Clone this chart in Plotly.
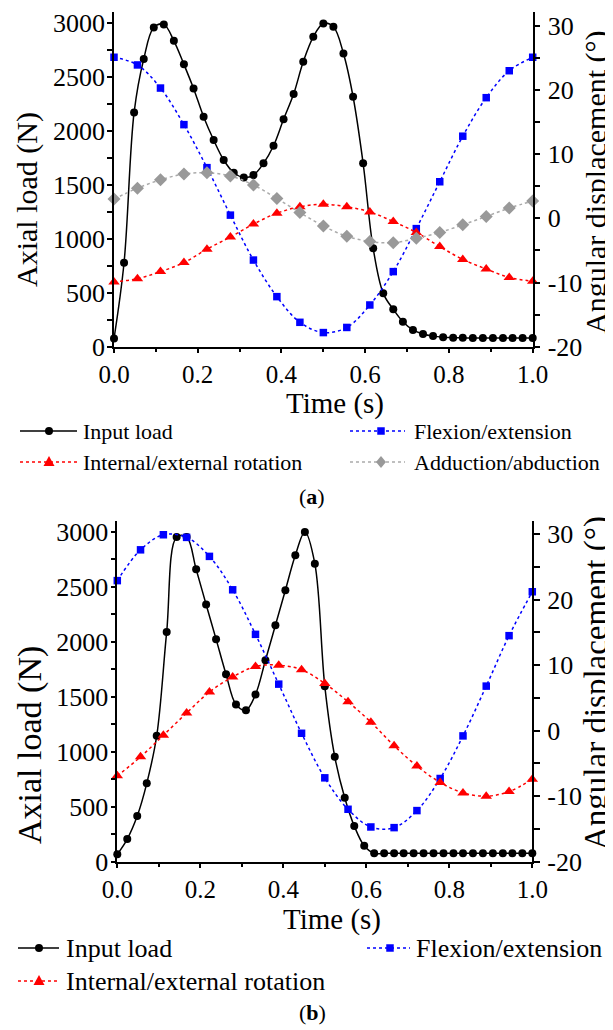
import plotly.graph_objects as go

# ---------------- data ----------------
t_load = [0.000, 0.024, 0.048, 0.071, 0.095, 0.119, 0.143, 0.167, 0.190, 0.214,
          0.238, 0.262, 0.286, 0.310, 0.333, 0.357, 0.381, 0.405, 0.429, 0.452,
          0.476, 0.500, 0.524, 0.548, 0.571, 0.595, 0.619, 0.643, 0.667, 0.690,
          0.714, 0.738, 0.762, 0.786, 0.810, 0.833, 0.857, 0.881, 0.905, 0.929,
          0.952, 0.976, 1.000]
t_ang = [0.000, 0.056, 0.111, 0.167, 0.222, 0.278, 0.333, 0.389, 0.444, 0.500,
         0.556, 0.611, 0.667, 0.722, 0.778, 0.833, 0.889, 0.944, 1.000]

# panel (a)
load_a = [75, 778, 2170, 2664, 2957, 2985, 2833, 2615, 2392, 2130,
          1914, 1729, 1611, 1568, 1590, 1698, 1861, 2106, 2340, 2639,
          2870, 2994, 2963, 2716, 2315, 1698, 911, 494, 346, 231,
          155, 118, 98, 88, 84, 82, 80, 80, 80, 80,
          80, 80, 80]
flex_a = [25.1, 23.9, 20.3, 14.6, 7.9, 0.5, -6.5, -12.2, -16.2, -17.8,
          -17.0, -13.5, -8.3, -1.6, 5.7, 12.8, 18.8, 23.0, 25.1]
rot_a = [-9.9, -9.4, -8.3, -6.9, -4.8, -2.9, -0.9, 0.8, 1.8, 2.2,
         1.8, 1.0, -0.5, -2.2, -4.4, -6.4, -7.9, -9.2, -9.8]
add_a = [3.0, 4.7, 6.0, 6.9, 7.1, 6.6, 5.2, 3.1, 0.9, -1.2,
         -2.8, -3.6, -3.8, -3.1, -2.2, -1.0, 0.3, 1.6, 2.7]

# panel (b)
load_b = [67, 206, 415, 713, 1146, 2091, 2955, 2955, 2661, 2340,
          2025, 1706, 1431, 1379, 1521, 1833, 2151, 2470, 2788, 3000,
          2712, 1597, 955, 582, 325, 145, 76, 76, 76, 76,
          76, 76, 76, 76, 76, 76, 76, 76, 76, 76,
          76, 76, 76]
flex_b = [22.9, 27.6, 29.9, 29.5, 26.6, 21.5, 14.7, 7.1, -0.4, -7.2,
          -12.0, -14.7, -14.8, -12.2, -7.3, -0.8, 6.8, 14.5, 21.2]
rot_b = [-6.9, -4.0, -0.7, 2.7, 5.9, 8.2, 9.8, 10.0, 9.3, 7.2,
         4.4, 1.3, -2.3, -5.4, -7.9, -9.5, -10.0, -9.3, -7.4]

x_ticks = [0.0, 0.2, 0.4, 0.6, 0.8, 1.0]
x_ticktext = ["0.0", "0.2", "0.4", "0.6", "0.8", "1.0"]
load_ticks = [0, 500, 1000, 1500, 2000, 2500, 3000]
load_ticktext = ["0", "500", "1000", "1500", "2000", "2500", "3000"]
ang_ticks = [-20, -10, 0, 10, 20, 30]
ang_ticktext = ["-20", "-10", "0", "10", "20", "30"]

names = ["Input load", "Flexion/extension", "Internal/external rotation", "Adduction/abduction"]

# ---------------- layout helpers ----------------
# the page body has an 8 px margin, so the figure is made 8 px smaller and
# every position below is given in window pixels and shifted by that offset
OFF = 8
W, H = 613 - OFF, 1030 - OFF
FONT = "'Liberation Serif', 'Times New Roman', Times, serif"
BLACK, BLUE, RED, GRAY, LGRAY = "#000000", "#0000FF", "#FF0000", "#999999", "#AAAAAA"


def px(x):
    return (x - OFF) / W


def py(y):
    return 1 - (y - OFF) / H


fig = go.Figure()


def add_series(x, y, xa, ya, color, lcolor, symbol, size, dash, name):
    fig.add_trace(go.Scatter(
        x=x, y=y, xaxis=xa, yaxis=ya, name=name, mode="lines+markers",
        line=dict(color=lcolor, width=1.5, dash=dash, shape="spline", smoothing=1.0),
        marker=dict(symbol=symbol, size=size, color=color, line=dict(width=0)),
        cliponaxis=False, showlegend=False))


# panel (a)
add_series(t_load, load_a, "x", "y", BLACK, BLACK, "circle", 8, "solid", names[0])
add_series(t_ang, flex_a, "x", "y2", BLUE, BLUE, "square", 7.5, "dot", names[1])
add_series(t_ang, rot_a, "x", "y2", RED, RED, "triangle-up", 10, "dot", names[2])
add_series(t_ang, add_a, "x", "y2", GRAY, LGRAY, "diamond", 10, "dot", names[3])
# panel (b)
add_series(t_load, load_b, "x2", "y3", BLACK, BLACK, "circle", 8, "solid", names[0])
add_series(t_ang, flex_b, "x2", "y4", BLUE, BLUE, "square", 7.5, "dot", names[1])
add_series(t_ang, rot_b, "x2", "y4", RED, RED, "triangle-up", 10, "dot", names[2])


def axis_common(ticklen=5, tickfs=25, standoff=0):
    return dict(showgrid=False, zeroline=False, showline=True, linecolor=BLACK, linewidth=1.5,
                ticks="outside", ticklen=ticklen, tickwidth=1.5, tickcolor=BLACK, automargin=False,
                ticklabelstandoff=standoff,
                tickfont=dict(family=FONT, size=tickfs, color=BLACK), tickmode="array")


def xaxis(domain, anchor):
    d = axis_common(5, 25, 0)
    d.update(domain=domain, anchor=anchor, range=[0, 1], tickvals=x_ticks, ticktext=x_ticktext,
             minor=dict(tickmode="linear", tick0=0, dtick=0.1, ticks="outside", ticklen=4,
                        tickwidth=1.5, tickcolor=BLACK))
    return d


def yload(domain, anchor):
    d = axis_common(5, 26, -3)
    d.update(domain=domain, anchor=anchor, range=[0, 3100], tickvals=load_ticks, ticktext=load_ticktext,
             minor=dict(tickmode="linear", tick0=0, dtick=250, ticks="outside", ticklen=5,
                        tickwidth=1.5, tickcolor=BLACK))
    return d


def yang(overlay, anchor, top):
    d = axis_common(6, 26, 2)
    d.update(overlaying=overlay, anchor=anchor, side="right", range=[-20, top],
             tickvals=ang_ticks, ticktext=ang_ticktext,
             minor=dict(tickmode="linear", tick0=-20, dtick=5, ticks="outside", ticklen=6,
                        tickwidth=1.5, tickcolor=BLACK))
    return d


fig.update_layout(
    width=W, height=H, margin=dict(l=0, r=0, t=0, b=0, autoexpand=False),
    paper_bgcolor="white", plot_bgcolor="rgba(0,0,0,0)", showlegend=False,
    font=dict(family=FONT, color=BLACK),
    xaxis=xaxis([px(114), px(532.7)], "y"),
    yaxis=yload([py(346.7), py(12)], "x"),
    yaxis2=yang("y", "x", 32.15),
    xaxis2=xaxis([px(117.3), px(532.3)], "y3"),
    yaxis3=yload([py(861.7), py(521)], "x2"),
    yaxis4=yang("y3", "x2", 32.0),
)

ann = []
shapes = []


def text(x, y, s, size, angle=0, xanchor="center"):
    ann.append(dict(x=px(x), y=py(y), xref="paper", yref="paper", text=s, showarrow=False,
                    textangle=angle, xanchor=xanchor, yanchor="middle", borderpad=0,
                    font=dict(family=FONT, size=size, color=BLACK)))


# axis titles
text(27, 200, "Axial load (N)", 30, -90)
text(596, 182, "Angular displacement (°)", 30, -90)
text(335, 403, "Time (s)", 29)
text(30, 745, "Axial load (N)", 34, -90)
text(596, 683, "Angular displacement (°)", 33, -90)
text(332, 919, "Time (s)", 29)
# panel labels
text(312, 497, "(<b>a</b>)", 22)
text(312, 1012, "(<b>b</b>)", 22)


def marker_shape(cx, cy, kind, color, s):
    if kind == "circle":
        shapes.append(dict(type="circle", xref="paper", yref="paper",
                           x0=px(cx - s / 2), x1=px(cx + s / 2), y0=py(cy + s / 2), y1=py(cy - s / 2),
                           fillcolor=color, line=dict(width=0)))
        return
    if kind == "square":
        pts = [(cx - s / 2, cy - s / 2), (cx + s / 2, cy - s / 2), (cx + s / 2, cy + s / 2), (cx - s / 2, cy + s / 2)]
    elif kind == "triangle":
        pts = [(cx, cy - s * 0.6), (cx + s * 0.55, cy + s * 0.4), (cx - s * 0.55, cy + s * 0.4)]
    else:
        pts = [(cx, cy - s * 0.6), (cx + s * 0.5, cy), (cx, cy + s * 0.6), (cx - s * 0.5, cy)]
    path = "M " + " L ".join(f"{px(a):.5f},{py(b):.5f}" for a, b in pts) + " Z"
    shapes.append(dict(type="path", xref="paper", yref="paper", path=path,
                       fillcolor=color, line=dict(width=0)))


def legend_item(x0, x1, xm, xt, y, label, lcolor, mcolor, kind, dash, size, ms):
    shapes.append(dict(type="line", xref="paper", yref="paper", x0=px(x0), x1=px(x1),
                       y0=py(y), y1=py(y), line=dict(color=lcolor, width=1.5, dash=dash)))
    marker_shape(xm, y, kind, mcolor, ms)
    text(xt, y, label, size, 0, "left")


# legend (a)
legend_item(20, 77, 49, 82, 431, names[0], BLACK, BLACK, "circle", "solid", 22, 8)
legend_item(350, 405, 381, 413, 431, names[1], BLUE, BLUE, "square", "dot", 22, 7.5)
legend_item(20, 77, 49, 82, 462, names[2], RED, RED, "triangle", "dot", 22, 10)
legend_item(350, 405, 381, 413, 462, names[3], LGRAY, GRAY, "diamond", "dot", 22, 10)
# legend (b)
legend_item(18, 59, 39, 65, 948, names[0], BLACK, BLACK, "circle", "solid", 26, 8)
legend_item(367, 410, 390, 415, 948, names[1], BLUE, BLUE, "square", "dot", 26, 7.5)
legend_item(18, 59, 39, 65, 981, names[2], RED, RED, "triangle", "dot", 26, 10)

fig.update_layout(annotations=ann, shapes=shapes)
fig.write_html("out.html")
